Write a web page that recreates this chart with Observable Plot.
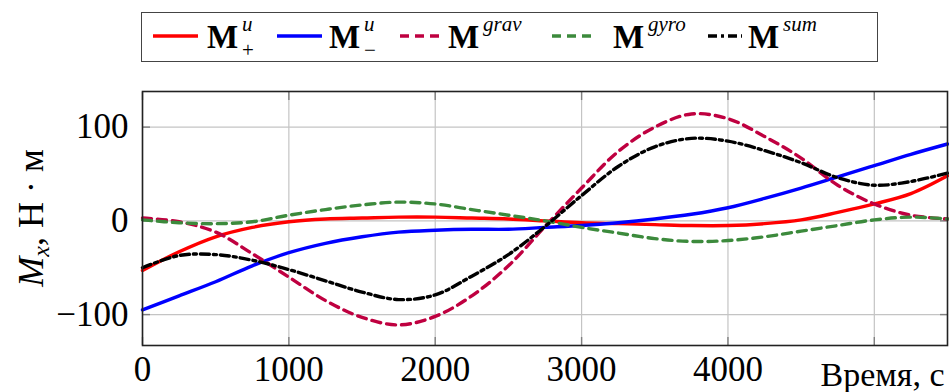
<!DOCTYPE html>
<html>
<head>
<meta charset="utf-8">
<script src="https://cdn.jsdelivr.net/npm/d3@7"></script>
<script src="https://cdn.jsdelivr.net/npm/@observablehq/plot@0.6"></script>
<style>
  html, body { margin: 0; padding: 0; background: #fff; }
  #wrap { position: relative; width: 949px; height: 392px; font-family: "Liberation Serif", "DejaVu Serif", "Tinos", "Times New Roman", serif; color: #000; }
  #legend { position: absolute; left: 0; top: 0; width: 949px; height: 75px; }
  #chart { position: absolute; left: 0; top: 75px; }
  .box { position: absolute; left: 141px; top: 12px; width: 737px; height: 50px; border: 1.5px solid #444; box-sizing: border-box; }
  .lab { position: absolute; top: 0; height: 75px; white-space: nowrap; }
  .lab .M { position: absolute; left: 0; top: 21px; font-size: 33px; font-weight: bold; line-height: 1; }
  .lab .sup { position: absolute; top: 14px; font-size: 21px; font-style: italic; line-height: 1; }
  .lab .sub { position: absolute; top: 40px; font-size: 21px; line-height: 1; }
  .samp { position: absolute; top: 30px; }
  #ylab { position: absolute; left: 31px; top: 218px; transform: translate(-50%, -50%) rotate(-90deg); font-size: 36px; white-space: nowrap; line-height: 1; }
  #ylab sub { font-size: 24px; font-style: italic; vertical-align: -6px; line-height: 0; }
</style>
</head>
<body>
<div id="wrap">
  <div id="legend"></div>
  <div id="chart"></div>
  <div id="ylab"><i>M</i><sub>x</sub>, Н · м</div>
</div>
<script>
// ---- data ----
const timeSec = [0, 250, 500, 750, 1000, 1250, 1500, 1750, 2000, 2250, 2500, 2750, 3000, 3250, 3500, 3750, 4000, 4250, 4500, 4750, 5000, 5250, 5500];
const mPlus  = [-53, -33, -17, -7, -1, 2, 3, 4, 4, 3, 2, 0, -2, -3, -4, -5, -5, -3, 1, 9, 18, 29, 48];
const mMinus = [-95, -80, -65, -48, -34, -24, -17, -12, -10, -9, -9, -7, -5, -2, 2, 7, 14, 24, 35, 47, 59, 71, 82];
const mGrav  = [3, -1, -12, -35, -60, -85, -103, -111, -102, -80, -48, -6, 35, 74, 100, 114, 109, 90, 67, 38, 18, 6, 2];
const mGyro  = [1, -2, -3, -1, 6, 12, 17, 20, 18, 12, 6, 0, -7, -13, -19, -22, -21, -17, -11, -5, 1, 4, 2];
const mSum   = [-50, -37, -36, -42, -52, -64, -76, -84, -79, -59, -36, -6, 27, 58, 79, 88, 85, 75, 62, 46, 38, 42, 51];

const xTickLabels = [0, 1000, 2000, 3000, 4000];
const xGridTicks = [0, 1000, 2000, 3000, 4000, 5000];
const yTicks = [-100, 0, 100];
const xLabel = "Время, с";

const seriesNames = ["M+", "M−", "Mgrav", "Mgyro", "Msum"];
const seriesValues = [mPlus, mMinus, mGrav, mGyro, mSum];
const seriesColors = ["#ff0000", "#0000ff", "#bf0040", "#3c8a3c", "#000000"];
const seriesDash = [null, null, "9,6", "9,6", "9,4,3,4"];

// legend labels
const legendSup = ["u", "u", "grav", "gyro", "sum"];
const legendSub = ["+", "−", "", "", ""];

const FONT = '"Liberation Serif", "DejaVu Serif", "Tinos", "Times New Roman", serif';

// ---- chart ----
const lineMarks = seriesValues.map((vals, k) =>
  Plot.line(timeSec, {
    x: d => d,
    y: (d, i) => vals[i],
    stroke: seriesColors[k],
    strokeWidth: 3.4,
    strokeDasharray: seriesDash[k] || undefined,
    curve: "catmull-rom"
  })
);

const chart = Plot.plot({
  width: 949,
  height: 317,
  marginTop: 16,
  marginBottom: 47,
  marginLeft: 142,
  marginRight: 2,
  style: { fontFamily: FONT, fontSize: "35px", background: "white", color: "black" },
  x: { domain: [0, 5500] },
  y: { domain: [-133, 138] },
  marks: [
    Plot.gridX(xGridTicks, { stroke: "#c4c4c4", strokeOpacity: 1, strokeWidth: 1.2 }),
    Plot.gridY(yTicks, { stroke: "#c4c4c4", strokeOpacity: 1, strokeWidth: 1.2 }),
    // inward tick marks on all four sides
    Plot.axisX(xGridTicks, { anchor: "bottom", tickSize: 8, dy: -8, fill: "none", label: null, stroke: "#808080", strokeWidth: 1.4 }),
    Plot.axisX(xGridTicks, { anchor: "top", tickSize: 8, dy: 8, fill: "none", label: null, stroke: "#808080", strokeWidth: 1.4 }),
    Plot.axisY(yTicks, { anchor: "left", tickSize: 8, dx: 8, fill: "none", label: null, stroke: "#808080", strokeWidth: 1.4 }),
    Plot.axisY(yTicks, { anchor: "right", tickSize: 8, dx: -8, fill: "none", label: null, stroke: "#808080", strokeWidth: 1.4 }),
    ...lineMarks,
    Plot.axisX(xTickLabels, { anchor: "bottom", tickSize: 0, tickPadding: 11, label: null, fontSize: 35, tickFormat: d => String(d) }),
    Plot.axisY(yTicks, { anchor: "left", tickSize: 0, tickPadding: 14, label: null, fontSize: 35, tickFormat: d => d < 0 ? "−" + Math.abs(d) : String(d) }),
    Plot.text([xLabel], { text: d => d, frameAnchor: "bottom-right", textAnchor: "end", lineAnchor: "middle", dy: 30, dx: -3, fontSize: 34 }),
    Plot.frame({ stroke: "#222", strokeWidth: 1.6 })
  ]
});
document.getElementById("chart").appendChild(chart);

// ---- legend ----
const legend = document.getElementById("legend");
legend.innerHTML = '<div class="box"></div>';
const sampX = [153, 277, 400, 552, 708];
const sampW = [45, 45, 40, 45, 34];
const labX = [207, 329, 448, 613, 748];
seriesNames.forEach((name, k) => {
  const svgNS = "http://www.w3.org/2000/svg";
  const s = document.createElementNS(svgNS, "svg");
  s.setAttribute("class", "samp");
  s.setAttribute("width", sampW[k]);
  s.setAttribute("height", 12);
  s.style.left = sampX[k] + "px";
  const l = document.createElementNS(svgNS, "line");
  l.setAttribute("x1", 0); l.setAttribute("x2", sampW[k]);
  l.setAttribute("y1", 6); l.setAttribute("y2", 6);
  l.setAttribute("stroke", seriesColors[k]);
  l.setAttribute("stroke-width", 3.6);
  if (seriesDash[k]) l.setAttribute("stroke-dasharray", seriesDash[k]);
  s.appendChild(l);
  legend.appendChild(s);

  const lab = document.createElement("div");
  lab.className = "lab";
  lab.style.left = labX[k] + "px";
  let html = '<span class="M">M</span><span class="sup" style="left:35px">' + legendSup[k] + '</span>';
  if (legendSub[k]) html += '<span class="sub" style="left:35px">' + legendSub[k] + '</span>';
  lab.innerHTML = html;
  legend.appendChild(lab);
});
</script>
</body>
</html>
